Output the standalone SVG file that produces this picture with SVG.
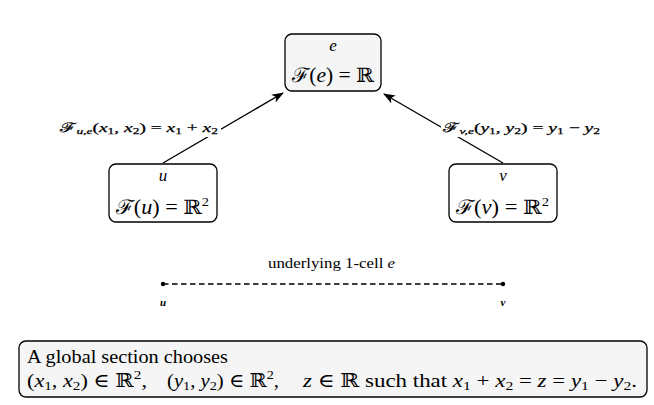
<svg xmlns="http://www.w3.org/2000/svg" width="654" height="405" viewBox="0 0 654 405">
<defs>
<style>
.box{stroke:#000;stroke-width:1.3}
.t{font-family:"Liberation Serif","DejaVu Serif",serif;fill:#000}
.m{font-family:"Liberation Serif","DejaVu Serif",serif;font-style:italic;fill:#000}
.n{font-style:normal}
.ln{stroke:#000;stroke-width:1.4;fill:none}
.lb{stroke:#000;stroke-width:0.25}
</style>
<marker id="ah" viewBox="0 0 12 9" refX="11" refY="4.5" markerWidth="12" markerHeight="9" markerUnits="userSpaceOnUse" orient="auto">
<path d="M0,0 L12,4.5 L0,9 L3,4.5 Z" fill="#000"/>
</marker>
</defs>
<rect width="654" height="405" fill="#fff"/>
<g id="connectors">
<line class="ln" x1="163" y1="163" x2="283" y2="93" marker-end="url(#ah)"/>
<line class="ln" x1="503" y1="163" x2="384" y2="94" marker-end="url(#ah)"/>
<rect x="57" y="119" width="164" height="18" fill="#fff"/>
<text class="m lb" x="60" y="132" font-size="13" textLength="158" lengthAdjust="spacingAndGlyphs"><tspan class="n">ℱ</tspan><tspan font-size="9" dy="2">u,e</tspan><tspan class="n" dy="-2">(</tspan>x<tspan font-size="9" class="n" dy="2">1</tspan><tspan class="n" dy="-2">, </tspan>x<tspan font-size="9" class="n" dy="2">2</tspan><tspan class="n" dy="-2">) = </tspan>x<tspan font-size="9" class="n" dy="2">1</tspan><tspan class="n" dy="-2"> + </tspan>x<tspan font-size="9" class="n" dy="2">2</tspan></text>
<rect x="441" y="119" width="162" height="18" fill="#fff"/>
<text class="m lb" x="443" y="132" font-size="13" textLength="157" lengthAdjust="spacingAndGlyphs"><tspan class="n">ℱ</tspan><tspan font-size="9" dy="2">v,e</tspan><tspan class="n" dy="-2">(</tspan>y<tspan font-size="9" class="n" dy="2">1</tspan><tspan class="n" dy="-2">, </tspan>y<tspan font-size="9" class="n" dy="2">2</tspan><tspan class="n" dy="-2">) = </tspan>y<tspan font-size="9" class="n" dy="2">1</tspan><tspan class="n" dy="-2"> − </tspan>y<tspan font-size="9" class="n" dy="2">2</tspan></text>
<line x1="163" y1="284" x2="503" y2="284" stroke="#000" stroke-width="1.3" stroke-dasharray="5.5,3.5"/>
<circle cx="163" cy="284" r="2.2" fill="#000"/>
<circle cx="503" cy="284" r="2.2" fill="#000"/>
</g>
<g id="node-e">
<rect class="box" x="285" y="34" width="96" height="57" rx="7" fill="#f5f5f5"/>
<text class="m" x="333" y="51" text-anchor="middle" font-size="17">e</text>
<text class="m" x="292" y="82" font-size="20" textLength="82" lengthAdjust="spacingAndGlyphs"><tspan class="n">ℱ(</tspan>e<tspan class="n">) = ℝ</tspan></text>
</g>
<g id="node-u">
<rect class="box" x="109" y="164" width="108" height="58" rx="7" fill="#fff"/>
<text class="m" x="163" y="181" text-anchor="middle" font-size="17">u</text>
<text class="m" x="116" y="214" font-size="20" textLength="93" lengthAdjust="spacingAndGlyphs"><tspan class="n">ℱ(</tspan>u<tspan class="n">) = ℝ</tspan><tspan class="n" font-size="13" dy="-8">2</tspan></text>
</g>
<g id="node-v">
<rect class="box" x="449" y="164" width="108" height="58" rx="7" fill="#fff"/>
<text class="m" x="503" y="181" text-anchor="middle" font-size="17">v</text>
<text class="m" x="456" y="214" font-size="20" textLength="93" lengthAdjust="spacingAndGlyphs"><tspan class="n">ℱ(</tspan>v<tspan class="n">) = ℝ</tspan><tspan class="n" font-size="13" dy="-8">2</tspan></text>
</g>
<g id="edge-labels">
<text class="t" x="268" y="268" font-size="14" textLength="127" lengthAdjust="spacingAndGlyphs">underlying 1-cell <tspan font-style="italic">e</tspan></text>
<text class="m" x="163" y="306" text-anchor="middle" font-size="11" font-weight="bold">u</text>
<text class="m" x="503" y="306" text-anchor="middle" font-size="11" font-weight="bold">v</text>
</g>
<g id="node-section">
<rect class="box" x="19" y="341" width="628" height="56" rx="7" fill="#f5f5f5"/>
<text class="t" x="27" y="363" font-size="19" textLength="201" lengthAdjust="spacingAndGlyphs">A global section chooses</text>
<text class="m" x="27" y="387" font-size="19" textLength="120" lengthAdjust="spacingAndGlyphs"><tspan class="n">(</tspan>x<tspan class="n" font-size="13" dy="3">1</tspan><tspan class="n" dy="-3">, </tspan>x<tspan class="n" font-size="13" dy="3">2</tspan><tspan class="n" dy="-3">) ∈ ℝ</tspan><tspan class="n" font-size="13" dy="-8">2</tspan><tspan class="n" dy="8">,</tspan></text>
<text class="m" x="167" y="387" font-size="19" textLength="112" lengthAdjust="spacingAndGlyphs"><tspan class="n">(</tspan>y<tspan class="n" font-size="13" dy="3">1</tspan><tspan class="n" dy="-3">, </tspan>y<tspan class="n" font-size="13" dy="3">2</tspan><tspan class="n" dy="-3">) ∈ ℝ</tspan><tspan class="n" font-size="13" dy="-8">2</tspan><tspan class="n" dy="8">,</tspan></text>
<text class="m" x="303" y="387" font-size="19" textLength="334" lengthAdjust="spacingAndGlyphs">z<tspan class="n"> ∈ ℝ such that </tspan>x<tspan class="n" font-size="13" dy="3">1</tspan><tspan class="n" dy="-3"> + </tspan>x<tspan class="n" font-size="13" dy="3">2</tspan><tspan class="n" dy="-3"> = </tspan>z<tspan class="n"> = </tspan>y<tspan class="n" font-size="13" dy="3">1</tspan><tspan class="n" dy="-3"> − </tspan>y<tspan class="n" font-size="13" dy="3">2</tspan><tspan class="n" dy="-3">.</tspan></text>
</g>
</svg>
